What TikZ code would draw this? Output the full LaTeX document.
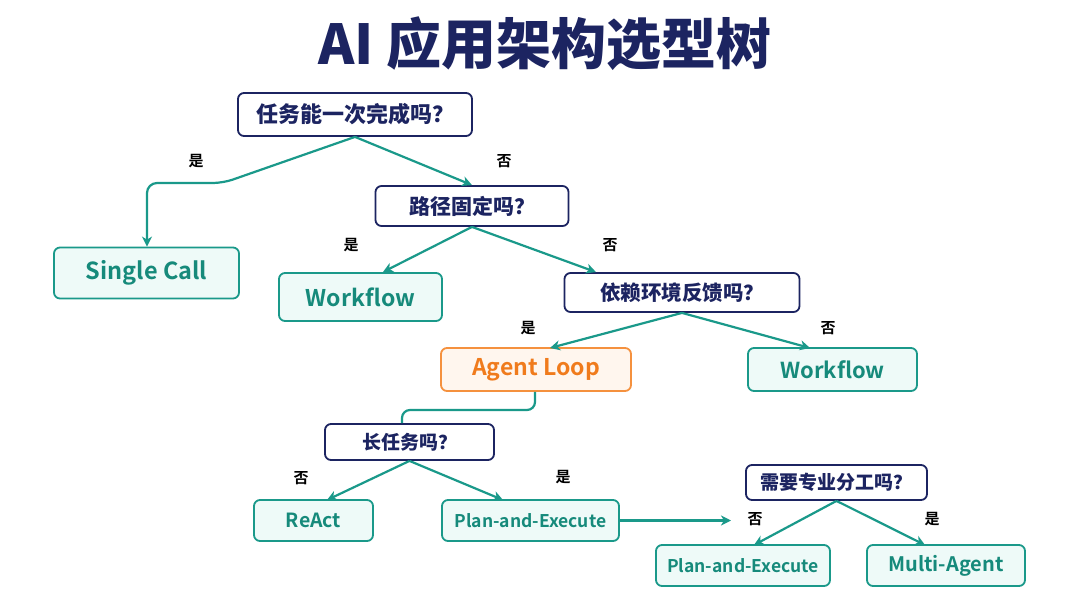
\documentclass[tikz,border=0pt]{standalone}
\usepackage{fontspec}
\setmainfont{Noto Sans CJK SC}[BoldFont={* Bold}]
\newfontfamily\heavyfont{Noto Sans CJK SC Black}
\usetikzlibrary{arrows.meta}
\definecolor{navy}{HTML}{1C2461}
\definecolor{teal}{HTML}{1A998A}
\definecolor{tealtext}{HTML}{168A7B}
\definecolor{tealfill}{HTML}{EEFAF8}
\definecolor{orange}{HTML}{F5913E}
\definecolor{orangetext}{HTML}{F07B1C}
\definecolor{orangefill}{HTML}{FFF6EE}
\tikzstyle{every picture}=[x=1pt,y=-1pt]
\tikzstyle{question}=[draw=navy, line width=1.8pt, fill=white, rounded corners=6pt,
                      inner sep=0pt, text=navy]
\tikzstyle{answer}=[draw=teal, line width=1.8pt, fill=tealfill, rounded corners=6pt,
                    inner sep=0pt, text=tealtext]
\tikzstyle{agent}=[answer, draw=orange, fill=orangefill, text=orangetext]
\tikzstyle{branch}=[draw=none, fill=none, inner sep=0pt, text=black,
                    font=\fontsize{15}{17}\selectfont\bfseries]
\tikzstyle{edge}=[teal, line width=2.2pt, -{Stealth[length=10pt,width=10pt,inset=3pt]}]

\begin{document}
\begin{tikzpicture}
  \useasboundingbox[fill=white] (0,0) rectangle (1080,608);
  \node[inner sep=0pt, text=navy, font=\heavyfont\fontsize{55}{62}\selectfont]
    (title) at (545,44) {AI 应用架构选型树};
  % questions
  \node[question, minimum width=234pt, minimum height=43pt, font=\heavyfont\fontsize{22}{24}\selectfont]
    (once) at (355,114.5) {任务能一次完成吗？};
  \node[question, minimum width=193pt, minimum height=40pt, font=\heavyfont\fontsize{21}{24}\selectfont]
    (fixed) at (472,206) {路径固定吗？};
  \node[question, minimum width=235pt, minimum height=39pt, font=\heavyfont\fontsize{20.5}{24}\selectfont]
    (env) at (682,292.5) {依赖环境反馈吗？};
  \node[question, minimum width=169pt, minimum height=36pt, font=\heavyfont\fontsize{19}{22}\selectfont]
    (long) at (409.5,442) {长任务吗？};
  \node[question, minimum width=181pt, minimum height=35pt, font=\heavyfont\fontsize{19}{22}\selectfont]
    (split) at (836.5,482.5) {需要专业分工吗？};
  % answers
  \node[answer, minimum width=185pt, minimum height=51pt, font=\fontsize{23.5}{28}\selectfont\bfseries]
    (single) at (146.5,273) {Single Call};
  \node[answer, minimum width=163pt, minimum height=48pt, font=\fontsize{23}{28}\selectfont\bfseries]
    (flowA) at (360.5,297) {Workflow};
  \node[agent, minimum width=190pt, minimum height=43pt, font=\fontsize{23}{28}\selectfont\bfseries]
    (loop) at (536,369.5) {Agent Loop};
  \node[answer, minimum width=169pt, minimum height=43pt, font=\fontsize{22}{26}\selectfont\bfseries]
    (flowB) at (832.5,369.5) {Workflow};
  \node[answer, minimum width=119pt, minimum height=41pt, font=\fontsize{19.5}{24}\selectfont\bfseries]
    (react) at (313.5,520.5) {ReAct};
  \node[answer, minimum width=177pt, minimum height=41pt, font=\fontsize{17.5}{22}\selectfont\bfseries]
    (planA) at (530.5,520.5) {Plan-and-Execute};
  \node[answer, minimum width=174pt, minimum height=41pt, font=\fontsize{17.5}{22}\selectfont\bfseries]
    (planB) at (743,565.5) {Plan-and-Execute};
  \node[answer, minimum width=158pt, minimum height=41pt, font=\fontsize{20}{24}\selectfont\bfseries]
    (multi) at (946,565.5) {Multi-Agent};
  % branch labels
  \node[branch] (onceY) at (196,161) {是};
  \node[branch] (onceN) at (504,161) {否};
  \node[branch] (fixedY) at (351,245) {是};
  \node[branch] (fixedN) at (610,245) {否};
  \node[branch] (envY) at (528,328) {是};
  \node[branch] (envN) at (828,328) {否};
  \node[branch] (longN) at (301,478) {否};
  \node[branch] (longY) at (563,477) {是};
  \node[branch] (splitN) at (755,519) {否};
  \node[branch] (splitY) at (932,519) {是};
  \coordinate (planEnd) at (731,520.5);
  % connectors
  \draw[edge, rounded corners=10pt] (once.south) -- (223,183) -- (147,183) -- (single.north -| 147,0);
  \draw[edge] (once.south) -- (fixed.north);
  \draw[edge] (fixed.south) -- (383,272);
  \draw[edge] (fixed.south) -- (env.north -| 596,0);
  \draw[edge] (env.south) -- (550,348);
  \draw[edge] (env.south) -- (810,348);
  \draw[edge, -, rounded corners=8pt] (loop.south -| 535,0) -- (535,410) -- (402,410) -- (long.north -| 402,0);
  \draw[edge] (long.south) -- (327,500);
  \draw[edge] (long.south) -- (503,500);
  \draw[edge] (planA.east) -- (planEnd);
  \draw[edge] (split.south) -- (754,545);
  \draw[edge] (split.south) -- (925,545);
\end{tikzpicture}
\end{document}
